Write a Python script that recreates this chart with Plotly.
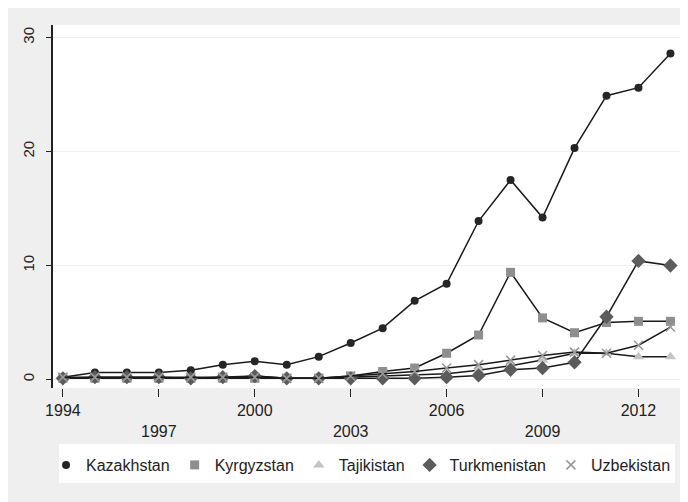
import plotly.graph_objects as go

years = list(range(1994, 2014))

kazakhstan = [0.2, 0.6, 0.6, 0.6, 0.8, 1.3, 1.6, 1.3, 2.0, 3.2, 4.5, 6.9, 8.4, 13.9, 17.5, 14.2, 20.3, 24.9, 25.6, 28.6]
kyrgyzstan = [0.1, 0.1, 0.1, 0.1, 0.1, 0.1, 0.1, 0.1, 0.1, 0.3, 0.7, 1.0, 2.3, 3.9, 9.4, 5.4, 4.1, 5.0, 5.1, 5.1]
tajikistan = [0.1, 0.1, 0.1, 0.1, 0.1, 0.1, 0.3, 0.1, 0.1, 0.2, 0.3, 0.4, 0.5, 0.8, 1.2, 1.7, 2.3, 2.3, 2.0, 2.0]
turkmenistan = [0.1, 0.2, 0.2, 0.2, 0.1, 0.2, 0.3, 0.1, 0.1, 0.1, 0.1, 0.1, 0.2, 0.35, 0.85, 1.0, 1.5, 5.5, 10.4, 10.0]
uzbekistan = [0.2, 0.2, 0.2, 0.2, 0.2, 0.2, 0.2, 0.1, 0.1, 0.3, 0.5, 0.7, 1.0, 1.3, 1.7, 2.1, 2.4, 2.3, 3.0, 4.6]

names = ["Kazakhstan", "Kyrgyzstan", "Tajikistan", "Turkmenistan", "Uzbekistan"]
series = [kazakhstan, kyrgyzstan, tajikistan, turkmenistan, uzbekistan]

x_tickvals = [1994, 1997, 2000, 2003, 2006, 2009, 2012]
x_ticktext = ["1994", "<br>1997", "2000", "<br>2003", "2006", "<br>2009", "2012"]
y_tickvals = [0, 10, 20, 30]
y_ticktext = ["0", "10", "20", "30"]

styles = [
    dict(symbol="circle", size=8, color="#262626", line=dict(width=0)),
    dict(symbol="square", size=9, color="#8e8e8e", line=dict(width=0)),
    dict(symbol="triangle-up", size=10, color="#c4c4c4", line=dict(width=0)),
    dict(symbol="diamond", size=11, color="#5c5c5c", line=dict(width=0)),
    dict(symbol="x-thin", size=9, color="#9a9a9a", line=dict(width=1.6, color="#9a9a9a")),
]

fig = go.Figure()
for name, vals, st in zip(names, series, styles):
    fig.add_trace(go.Scatter(x=years, y=vals, mode="lines", showlegend=False,
                             line=dict(color="#1a1a1a", width=1.5), hoverinfo="skip"))
    fig.add_trace(go.Scatter(x=years, y=vals, mode="markers", name=name, marker=st))

L, R, T, B = 41, 15, 17, 122
W, H = 688, 502
pw, ph = W - L - R, H - T - B

def px(x):
    return (x - L) / pw

def py(y):
    return (H - B - y) / ph

shapes = [
    # legend box
    dict(type="rect", xref="paper", yref="paper", x0=px(47), x1=px(667), y0=py(475), y1=py(436),
         fillcolor="white", line=dict(width=0), layer="below"),
]

font = "Liberation Sans, Arial, sans-serif"
fig.update_layout(
    width=W, height=H,
    margin=dict(l=L, r=R, t=T, b=B, pad=0),
    paper_bgcolor="#efefef",
    plot_bgcolor="white",
    font=dict(family=font, size=16, color="#222222"),
    shapes=shapes,
    showlegend=True,
    legend=dict(orientation="h", x=px(34), xanchor="left", y=py(457), yanchor="middle",
                bgcolor="rgba(0,0,0,0)", font=dict(size=16, color="#222222"),
                itemclick=False),
    xaxis=dict(range=[1993.69, 2013.33], tickvals=x_tickvals, ticktext=x_ticktext,
               ticks="outside", ticklen=8, tickwidth=1.2, tickcolor="#222222",
               showline=False, showgrid=False, zeroline=False,
               tickfont=dict(size=16)),
    yaxis=dict(range=[-0.75, 31.1], tickvals=y_tickvals, ticktext=y_ticktext,
               ticks="outside", ticklen=5, tickwidth=1.2, tickcolor="#222222",
               showline=True, linecolor="#222222", linewidth=1.5,
               showgrid=True, gridcolor="#f0f0f0", gridwidth=1, zeroline=False,
               tickangle=-90, tickfont=dict(size=15), ticklabelstandoff=6),
)

fig.write_html("out.html")
